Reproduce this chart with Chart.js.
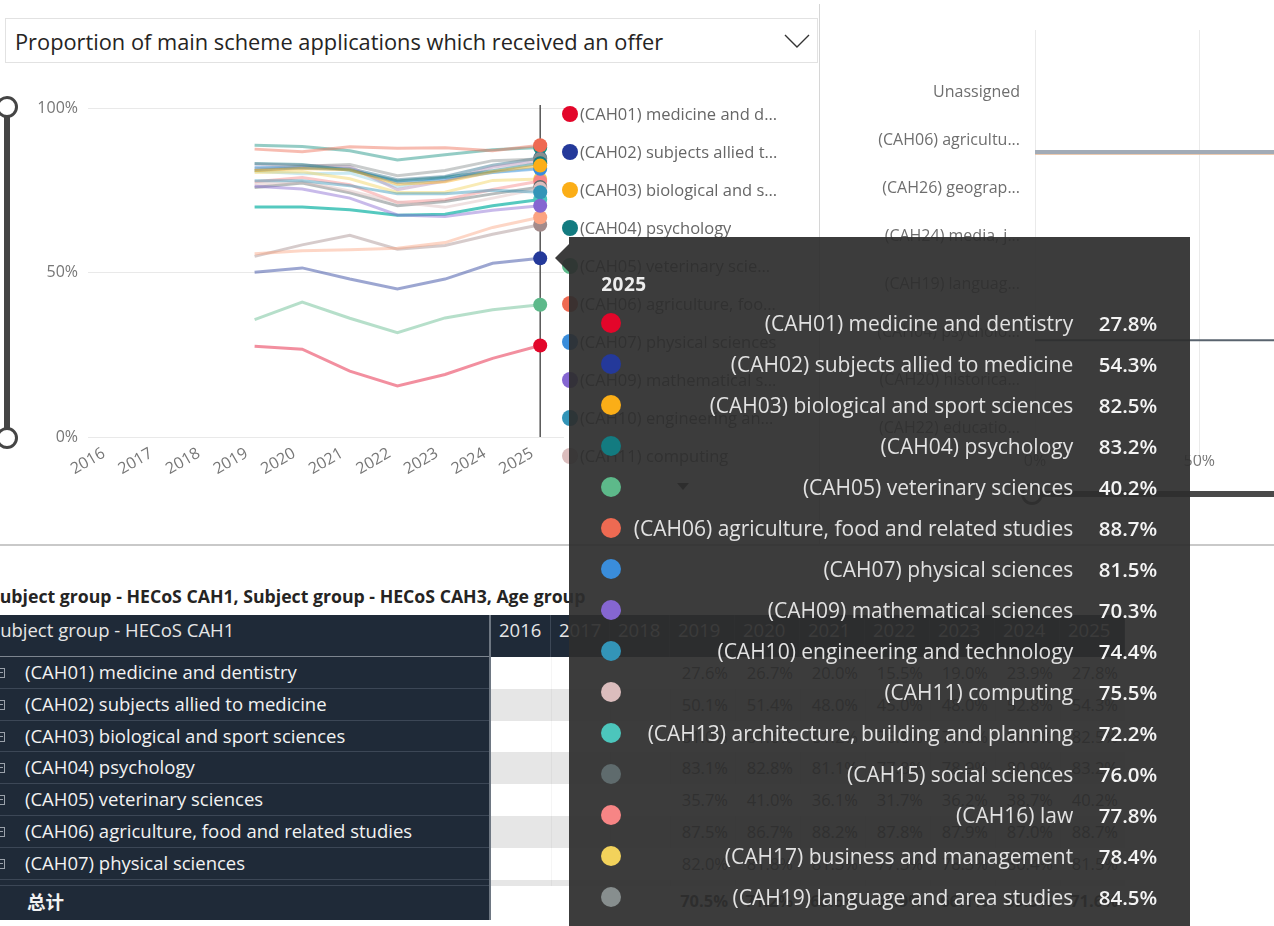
<!DOCTYPE html>
<html>
<head>
<meta charset="utf-8">
<title>Proportion of main scheme applications which received an offer</title>
<script src="https://cdn.jsdelivr.net/npm/chart.js@4.4.1/dist/chart.umd.min.js"></script>
<style>
  html,body{margin:0;padding:0;background:#fff;}
  body{width:1274px;height:926px;overflow:hidden;position:relative;font-family:"Open Sans","Noto Sans",sans-serif;}
  .a{position:absolute;}
  #dropdown{left:5px;top:18px;width:813px;height:45px;border:1px solid #E2E2E2;box-sizing:border-box;background:#fff;}
  #dropdown .t{position:absolute;left:9px;top:50%;transform:translateY(-47%);font-size:21.8px;color:#252423;white-space:nowrap;letter-spacing:0px;}
  #vsep{left:819px;top:4px;width:1px;height:541px;background:#D6D6D6;}
  #hsep{left:0;top:544px;width:1274px;height:2px;background:#C9C9C9;}
  #slider{left:4px;top:107px;width:6px;height:331px;background:#454545;}
  .knob{width:16px;height:16px;border:3px solid #454545;border-radius:50%;background:#fff;}
  #lineCanvas{left:20px;top:80px;}
  #barCanvas{left:820px;top:0px;}
  .lg{position:absolute;left:562px;height:22px;white-space:nowrap;}
  .lg .d{position:absolute;left:0;top:3px;width:16px;height:16px;border-radius:50%;}
  .lg .x{position:absolute;left:18px;top:0;font-size:16.5px;line-height:22px;color:#666;max-width:200px;overflow:hidden;text-overflow:ellipsis;}
  #lgArrow{left:677px;top:483px;width:0;height:0;border-left:6px solid transparent;border-right:6px solid transparent;border-top:7px solid #333;}
  #hslider{left:1035px;top:491px;width:260px;height:6px;background:#4A4A4A;}
  #tip{background:rgba(45,45,45,0.93);width:621px;height:760px;z-index:20;}
  #tipArrow{width:0;height:0;border-top:14px solid transparent;border-bottom:14px solid transparent;border-right:14px solid rgba(45,45,45,0.93);z-index:20;}
  #tip .ti{position:absolute;left:32px;top:34px;font-size:19px;font-weight:700;color:#EDEDED;letter-spacing:0.5px;}
  #tip .row{position:absolute;left:0;width:621px;height:30px;}
  #tip .row .d{position:absolute;left:32px;top:5px;width:20px;height:20px;border-radius:50%;}
  #tip .row .l{position:absolute;right:117px;top:0;font-size:21px;line-height:30px;color:#E2E2E2;white-space:nowrap;}
  #tip .row .v{position:absolute;right:33px;top:0;font-size:20.5px;line-height:30px;color:#F4F4F4;font-weight:600;white-space:nowrap;}
  #tblTitle{left:-10px;top:584px;font-size:17.7px;font-weight:700;color:#252423;white-space:nowrap;}
  .cell{position:absolute;box-sizing:border-box;white-space:nowrap;overflow:hidden;}
  .hdr{background:#1F2A38;color:#E6E6E6;font-size:18.5px;line-height:30px;}
  .lab{background:#1F2A38;color:#F2F2F2;font-size:18.5px;border-bottom:1px solid #3C4756;}
  .val{font-size:16.5px;color:#555;text-align:right;padding-right:7px;}
  .box{position:absolute;left:-5px;width:10px;height:10px;border:1px solid #9AA1AA;box-sizing:border-box;}
  .box:after{content:"";position:absolute;left:1px;right:1px;top:3px;height:1px;background:#9AA1AA;}
</style>
</head>
<body>
<script>
// ---------------- DATA ----------------
const years = ['2016','2017','2018','2019','2020','2021','2022','2023','2024','2025'];

const cah01 = [null,null,null,27.6,26.7,20.0,15.5,19.0,23.9,27.8];
const cah02 = [null,null,null,50.1,51.4,48.0,45.0,48.0,52.8,54.3];
const cah03 = [null,null,null,81.0,81.6,81.2,76.8,77.6,80.6,82.5];
const cah04 = [null,null,null,83.1,82.8,81.1,77.8,78.9,80.9,83.2];
const cah05 = [null,null,null,35.7,41.0,36.1,31.7,36.2,38.7,40.2];
const cah06 = [null,null,null,87.5,86.7,88.2,87.8,87.9,87.0,88.7];
const cah07 = [null,null,null,82.0,81.8,81.3,77.3,78.3,80.4,81.5];
const cah09 = [null,null,null,76.2,75.4,72.6,67.5,67.0,68.9,70.3];
const cah10 = [null,null,null,77.9,77.9,76.4,73.9,73.9,75.0,74.4];
const cah11 = [null,null,null,76.8,77.6,74.8,71.4,69.8,72.6,75.5];
const cah13 = [null,null,null,69.9,69.9,69.1,67.4,67.7,70.3,72.2];
const cah15 = [null,null,null,75.8,77.2,74.2,70.3,71.6,73.9,76.0];
const cah16 = [null,null,null,77.6,78.9,76.7,71.3,72.1,75.2,77.8];
const cah17 = [null,null,null,80.4,80.6,78.5,74.3,74.4,78.0,78.4];
const cah19 = [null,null,null,81.5,82.3,82.8,79.4,81.0,84.0,84.5];
const cah20 = [null,null,null,83.0,82.6,82.2,75.2,77.8,82.0,84.0];
const cah22 = [null,null,null,55.7,56.6,56.9,57.4,59.1,63.7,66.8];
const cah23 = [null,null,null,54.9,58.4,61.3,57.1,58.2,61.6,64.5];
const cah24 = [null,null,null,81.0,81.9,81.6,78.2,79.2,82.6,84.8];
const cah25 = [null,null,null,80.8,80.0,80.2,76.0,79.0,80.5,81.8];
const cah26 = [null,null,null,88.7,88.3,87.0,84.2,85.8,87.3,88.0];
const totals = [null,null,null,70.5,71.2,68.6,64.9,66.1,69.3,71.6];

const seriesNames = [
  '(CAH01) medicine and dentistry',
  '(CAH02) subjects allied to medicine',
  '(CAH03) biological and sport sciences',
  '(CAH04) psychology',
  '(CAH05) veterinary sciences',
  '(CAH06) agriculture, food and related studies',
  '(CAH07) physical sciences',
  '(CAH09) mathematical sciences',
  '(CAH10) engineering and technology',
  '(CAH11) computing',
  '(CAH13) architecture, building and planning',
  '(CAH15) social sciences',
  '(CAH16) law',
  '(CAH17) business and management',
  '(CAH19) language and area studies',
  '(CAH20) historical, philosophical and religious studies',
  '(CAH22) education and teaching',
  '(CAH23) combined and general studies',
  '(CAH24) media, journalism and communications',
  '(CAH25) design, and creative and performing arts',
  '(CAH26) geography, earth and environmental studies'
];
const seriesColors = ['#E3062A','#24399A','#FBAE17','#137B80','#5DB98A','#EE6A52','#3A8DDB','#8566D1','#3395B8','#DBBDBD',
  '#4CC6BC','#5F6B6D','#F78585','#F2D25B','#878E8E','#B38DB6','#FBA381','#A38B8B','#2C6F8C','#8ED0E4','#118F7F'];
const seriesValues = [cah01,cah02,cah03,cah04,cah05,cah06,cah07,cah09,cah10,cah11,cah13,cah15,cah16,cah17,cah19,cah20,cah22,cah23,cah24,cah25,cah26];

const yTicks = [0, 50, 100];
const barCategories = ['Unassigned','(CAH06) agricultu...','(CAH26) geograp...','(CAH24) media, j...','(CAH19) languag...','(CAH04) psycholo...','(CAH20) historica...','(CAH22) educatio...'];
const barTicks = [0, 0.5, 1];
const barLineLevels = [1.25, 5.17];

const hoverYear = '2025';
const hoverSeries = 1; // CAH02 point under the cursor
const vividSeries = 10; // CAH13 line drawn at full strength
const legendCount = 10;
const tableRowCount = 8;
const totalLabel = '总计';
const tableTitle = 'Subject group - HECoS CAH1, Subject group - HECoS CAH3, Age group';
const tableHeader = 'Subject group - HECoS CAH1';
const dropdownText = 'Proportion of main scheme applications which received an offer';
</script>

<div id="dropdown" class="a"><span class="t"></span>
  <svg class="a" style="left:778px;top:15px" width="26" height="15"><polyline points="1,1 13,13 25,1" fill="none" stroke="#333" stroke-width="1.4"/></svg>
</div>
<div id="vsep" class="a"></div>
<div id="hsep" class="a"></div>
<div id="slider" class="a"></div>
<div class="a knob" style="left:-4px;top:96px"></div>
<div class="a knob" style="left:-4px;top:427px"></div>
<canvas id="lineCanvas" class="a" width="560" height="465"></canvas>
<canvas id="barCanvas" class="a" width="561" height="480"></canvas>
<div id="legend"></div>
<div id="lgArrow" class="a"></div>
<div id="hslider" class="a"></div>
<div class="a knob" style="left:1021px;top:483px;border-color:#4A4A4A"></div>
<div id="tblTitle" class="a"></div>
<div id="table"></div>
<div id="tipArrow" class="a"></div>
<div id="tip" class="a"></div>

<script>
document.querySelector('#dropdown .t').textContent = dropdownText;
function alpha(hex, a){const n=parseInt(hex.slice(1),16);return `rgba(${n>>16},${(n>>8)&255},${n&255},${a})`;}
const fmt = v => v==null ? '' : v.toFixed(1) + '%';
const lastIdx = years.indexOf(hoverYear);

Chart.defaults.font.family = "'Open Sans','Noto Sans',sans-serif";

const crosshair = {
  id:'crosshair',
  beforeDatasetsDraw(chart, args, opts){
    const x = chart.scales.x.getPixelForValue(opts.index);
    const {top,bottom} = chart.chartArea;
    const c = chart.ctx; c.save();
    c.strokeStyle = '#555'; c.lineWidth = 1.5;
    c.beginPath(); c.moveTo(x, top - 3); c.lineTo(x, bottom); c.stroke();
    c.restore();
  }
};

const lineChart = new Chart(document.getElementById('lineCanvas'), {
  type:'line',
  data:{
    labels: years,
    datasets: seriesNames.map((n,i)=>({
      label:n, data:seriesValues[i],
      borderColor: alpha(seriesColors[i], i === vividSeries ? 0.95 : 0.45), borderWidth:3, tension:0,
      pointRadius: ctx => ctx.dataIndex === lastIdx ? 7 : 0,
      pointBackgroundColor: seriesColors[i], pointBorderWidth:0
    }))
  },
  options:{
    responsive:false, animation:false, events:[],
    layout:{padding:{top:28,right:16,left:0,bottom:0}},
    plugins:{legend:{display:false}, tooltip:{enabled:false}, crosshair:{index:lastIdx}},
    scales:{
      x:{offset:true, grid:{display:false, drawTicks:false}, border:{display:false},
         ticks:{minRotation:30, maxRotation:30, padding:7, labelOffset:-8, color:'#777', font:{size:16}, autoSkip:false},
         afterFit:s=>{s.height=108;}},
      y:{min:0, max:100, afterBuildTicks:s=>{s.ticks = yTicks.map(v=>({value:v}));},
         ticks:{callback:v=>v+'%', color:'#777', font:{size:16}, padding:10},
         grid:{color:'#E9E9E9', drawTicks:false}, border:{display:false},
         afterFit:s=>{s.width=68;}}
    }
  },
  plugins:[crosshair]
});

// right-side bar panel
new Chart(document.getElementById('barCanvas'), {
  type:'line',
  data:{datasets:[
    {data:barTicks.filter((v,i)=>i!==1).map(x=>({x, y:barLineLevels[0]})), borderColor:'#A2ABB6', borderWidth:4, pointRadius:0},
    {data:barTicks.filter((v,i)=>i!==1).map(x=>({x, y:barLineLevels[0]+0.045})), borderColor:'#E5B996', borderWidth:1.2, pointRadius:0},
    {data:barTicks.filter((v,i)=>i!==1).map(x=>({x, y:barLineLevels[1]})), borderColor:'#59636E', borderWidth:2, pointRadius:0}
  ]},
  options:{
    responsive:false, animation:false, events:[],
    layout:{padding:{top:30,right:10,left:0,bottom:0}},
    plugins:{legend:{display:false}, tooltip:{enabled:false}},
    scales:{
      x:{type:'linear', min:0, max:1, afterBuildTicks:s=>{s.ticks = barTicks.map(v=>({value:v}));},
         ticks:{callback:v=>Math.round(v*100)+'%', color:'#777', font:{size:16}, padding:-3},
         grid:{color:'#EAEAEA', drawTicks:false}, border:{display:false}, afterFit:s=>{s.height=25;}},
      y:{type:'linear', reverse:true, min:-1.29, max:7.56,
         afterBuildTicks:s=>{s.ticks = barCategories.map((c,i)=>({value:i}));},
         ticks:{callback:v=>barCategories[Math.round(v)] ?? '', color:'#6E6E6E', font:{size:16}, padding:7, autoSkip:false},
         grid:{display:false}, border:{display:false}, afterFit:s=>{s.width=215;}}
    }
  }
});

// legend (HTML, from the series arrays)
const lgEl = document.getElementById('legend');
seriesNames.slice(0, legendCount).forEach((n,i)=>{
  const d = document.createElement('div'); d.className='lg';
  d.style.top = (103 + 38*i) + 'px';
  d.innerHTML = `<span class="d" style="background:${seriesColors[i]}"></span><span class="x"></span>`;
  d.querySelector('.x').textContent = n;
  lgEl.appendChild(d);
});

// table
document.getElementById('tblTitle').textContent = tableTitle;
const tbl = document.getElementById('table');
const colStart = [491,551,610,670,735,800,865,930,995,1060,1125];
function cell(cls, left, top, w, h, html, style){
  const c = document.createElement('div'); c.className='cell '+cls;
  c.style.cssText = `left:${left}px;top:${top}px;width:${w}px;height:${h}px;` + (style||'');
  c.innerHTML = html; tbl.appendChild(c); return c;
}
cell('hdr', 0, 615, 491, 42, `<span style="position:absolute;left:-10px;top:0px">${tableHeader}</span>`, 'border-right:1px solid #3C4756;');
years.forEach((y,j)=>cell('hdr', colStart[j], 615, colStart[j+1]-colStart[j], 42, y, 'padding-left:8px;border-right:1px solid #3C4756;'));
cell('', 0, 656, 491, 2, '', 'background:#7D858F;');
const rowH = 31.8;
for(let r=0; r<tableRowCount; r++){
  const top = 657 + rowH*r;
  const h = r === tableRowCount-1 ? 6 : rowH;
  cell('lab', 0, top, 489, h, `<span class="box" style="top:11px"></span><span style="position:absolute;left:25px;top:2px">${seriesNames[r]}</span>`);
  cell('', 491, top, 634, h, '', `background:${r%2? '#E6E6E6':'#FFFFFF'};`);
  years.forEach((y,j)=>cell('val', colStart[j], top, colStart[j+1]-colStart[j], h,
     `<span style="line-height:${rowH}px">${fmt(seriesValues[r][j])}</span>`, j? 'border-left:1px solid rgba(0,0,0,0.04);':''));
}
const totTop = 657 + rowH*(tableRowCount-1) + 6;
cell('lab', 0, totTop, 489, 34, `<span style="position:absolute;left:27px;top:2px;font-family:'Noto Sans CJK SC';font-weight:700">${totalLabel}</span>`, 'border-bottom:none;');
years.forEach((y,j)=>cell('val', colStart[j], totTop, colStart[j+1]-colStart[j], 34,
   `<span style="line-height:30px;font-weight:700;color:#333">${fmt(totals[j])}</span>`));
cell('', 489, 615, 2, totTop + 34 - 615, '', 'background:#6E7782;');

// tooltip (built from the hovered year's values)
const px = lineChart.scales.x.getPixelForValue(lastIdx) + 20;
const py = lineChart.scales.y.getPixelForValue(seriesValues[hoverSeries][lastIdx]) + 80;
const tip = document.getElementById('tip');
const arrow = document.getElementById('tipArrow');
arrow.style.left = (px + 15) + 'px'; arrow.style.top = (py - 14) + 'px';
tip.style.left = (px + 29) + 'px'; tip.style.top = (py - 21) + 'px';
tip.innerHTML = `<div class="ti">${hoverYear}</div>`;
seriesNames.forEach((n,i)=>{
  const r = document.createElement('div'); r.className='row';
  r.style.top = (71 + 41*i) + 'px';
  r.innerHTML = `<span class="d" style="background:${seriesColors[i]}"></span><span class="l"></span><span class="v">${fmt(seriesValues[i][lastIdx])}</span>`;
  r.querySelector('.l').textContent = n;
  tip.appendChild(r);
});
</script>
</body>
</html>
